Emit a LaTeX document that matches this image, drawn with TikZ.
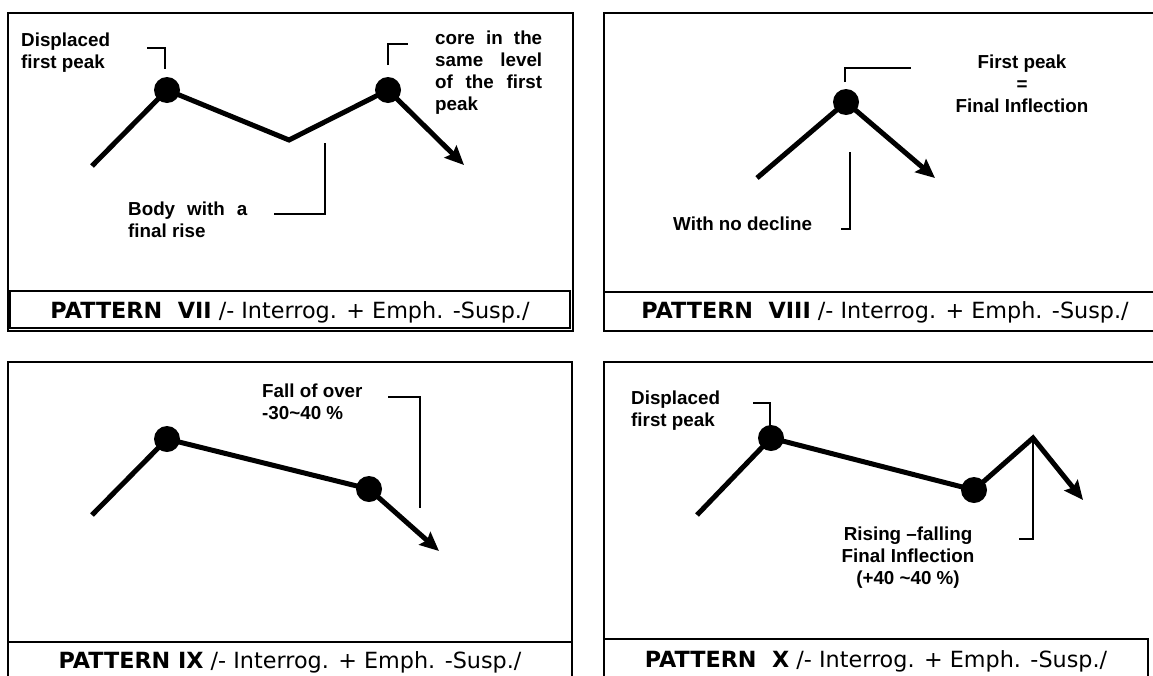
\documentclass[tikz,border=0pt]{standalone}
\usepackage{fontspec}
\setmainfont{Liberation Sans}
\newfontfamily\capfont{DejaVu Sans}
\usetikzlibrary{arrows.meta}
\hyphenpenalty=10000

\begin{document}
\begin{tikzpicture}[x=1pt, y=-1pt]
    % Define styles
    \tikzstyle{panel} = [draw, line width=1.6pt]
    \tikzstyle{fallarrow} = [line width=5pt, -{Stealth[length=19pt, width=17pt, inset=3pt]}]
    \tikzstyle{peak} = [circle, fill=black, inner sep=0pt, minimum size=26pt]
    \tikzstyle{leader} = [line width=1.3pt]
    \tikzstyle{note} = [inner sep=0pt, font=\fontsize{18.8}{21.8}\selectfont\bfseries]
    \tikzstyle{patterncap} = [inner sep=0pt, anchor=base, font=\fontsize{22.3}{26}\selectfont\capfont]

    \useasboundingbox (0,0) rectangle (1153,675);
    \clip (0,0) rectangle (1153,675);

    % Frames
    \draw[panel] (8,13) rectangle (573,331);
    \draw[panel] (10,291) rectangle (570,328);
    \draw[panel] (1170,13) -- (604,13) -- (604,331) -- (1170,331);
    \draw[panel] (604,292) -- (1170,292);
    \draw[panel] (8,700) -- (8,362) -- (572,362) -- (572,700);
    \draw[panel] (8,642) -- (572,642);
    \draw[panel] (1170,362) -- (604,362) -- (604,700);
    \draw[panel] (604,639) -- (1148,639) -- (1148,700);

    % Pattern VII
    \coordinate (a1) at (92,166);
    \coordinate (a2) at (167,90);
    \coordinate (a3) at (289,140);
    \coordinate (a4) at (388,90);
    \coordinate (a5) at (464,165);
    \draw[fallarrow] (a1) -- (a2) -- (a3) -- (a4) -- (a5);
    \node[peak] (dotA1) at (a2) {};
    \node[peak] (dotA2) at (a4) {};
    \node[note, anchor=north west, align=left] (dispA) at (21,33) {Displaced\\first peak};
    \node[note, anchor=north west, text width=107pt, align=justify] (coreA) at (435,31) {core in the same level of the first peak};
    \node[note, anchor=north west, text width=119pt, align=justify] (bodyA) at (128,202) {Body with a final rise};
    \coordinate (ldA1) at (147,48);
    \coordinate (ldA2) at (165,69);
    \coordinate (ldA3) at (408,44);
    \coordinate (ldA4) at (388,65);
    \coordinate (ldA5) at (274,214);
    \coordinate (ldA6) at (325,143);
    \draw[leader] (ldA1) -| (ldA2);
    \draw[leader] (ldA4) |- (ldA3);
    \draw[leader] (ldA5) -| (ldA6);
    \node[patterncap] (capA) at (290,318) {\textbf{PATTERN\ \ VII} /- Interrog. + Emph. -Susp./};

    % Pattern VIII
    \coordinate (b1) at (757,178);
    \coordinate (b2) at (846,102);
    \coordinate (b3) at (935,178);
    \draw[fallarrow] (b1) -- (b2) -- (b3);
    \node[peak] (dotB1) at (b2) {};
    \node[note, anchor=north, align=center] (firstB) at (1022,55) {First peak\\=\\Final Inflection};
    \node[note, anchor=north west] (declB) at (673,217) {With no decline};
    \coordinate (ldB1) at (845,82);
    \coordinate (ldB2) at (911,68);
    \coordinate (ldB3) at (850,152);
    \coordinate (ldB4) at (841,229);
    \draw[leader] (ldB1) |- (ldB2);
    \draw[leader] (ldB3) |- (ldB4);
    \node[patterncap] (capB) at (885,318) {\textbf{PATTERN\ \ VIII} /- Interrog. + Emph. -Susp./};

    % Pattern IX
    \coordinate (c1) at (92,515);
    \coordinate (c2) at (167,439);
    \coordinate (c3) at (369,489);
    \coordinate (c4) at (439,551);
    \draw[fallarrow] (c1) -- (c2) -- (c3) -- (c4);
    \node[peak] (dotC1) at (c2) {};
    \node[peak] (dotC2) at (c3) {};
    \node[note, anchor=north west, align=left] (fallC) at (262,384) {Fall of over\\-30\textasciitilde40 \%};
    \coordinate (ldC1) at (388,397);
    \coordinate (ldC2) at (420,508);
    \draw[leader] (ldC1) -| (ldC2);
    \node[patterncap] (capC) at (290,668) {\textbf{PATTERN IX} /- Interrog. + Emph. -Susp./};

    % Pattern X
    \coordinate (d1) at (697,515);
    \coordinate (d2) at (771,438);
    \coordinate (d3) at (974,490);
    \coordinate (d4) at (1033,438);
    \coordinate (d5) at (1083,500);
    \draw[fallarrow] (d1) -- (d2) -- (d3) -- (d4) -- (d5);
    \node[peak] (dotD1) at (d2) {};
    \node[peak] (dotD2) at (d3) {};
    \node[note, anchor=north west, align=left] (dispD) at (631,391) {Displaced\\first peak};
    \node[note, anchor=north, align=center] (riseD) at (908,527) {Rising –falling\\Final Inflection\\(+40 \textasciitilde40 \%)};
    \coordinate (ldD1) at (753,403);
    \coordinate (ldD2) at (770,427);
    \coordinate (ldD3) at (1019,539);
    \draw[leader] (ldD1) -| (ldD2);
    \draw[leader] (d4) |- (ldD3);
    \node[patterncap] (capD) at (876,667) {\textbf{PATTERN\ \ X} /- Interrog. + Emph. -Susp./};
\end{tikzpicture}
\end{document}
